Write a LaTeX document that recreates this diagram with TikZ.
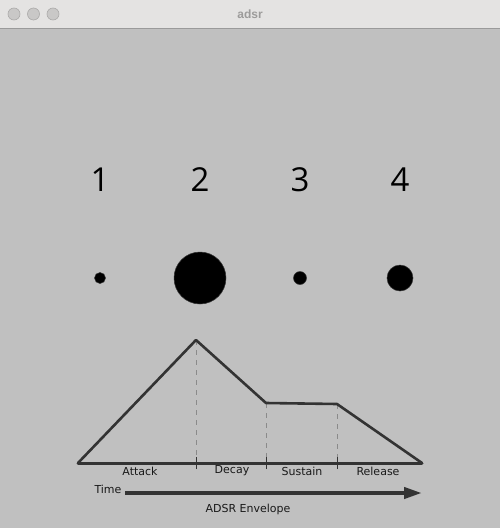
\documentclass[tikz,border=0pt]{standalone}
\usepackage{fontspec}
\setmainfont{Open Sans}
\newfontfamily\labfont{DejaVu Sans}
\newfontfamily\titlefont{Liberation Sans}
\usetikzlibrary{arrows.meta}
\definecolor{bgbody}{HTML}{C0C0C0}
\definecolor{bgbar}{HTML}{E4E3E2}
\definecolor{barline}{HTML}{9A9A9A}
\definecolor{lightbtn}{HTML}{C9C8C7}
\definecolor{lightedge}{HTML}{ABAAA9}
\definecolor{titlegray}{HTML}{9C9B9A}
\definecolor{ink}{HTML}{333333}
\definecolor{dashgray}{HTML}{8A8A8A}
\tikzset{
  winbtn/.style={circle, fill=lightbtn, draw=lightedge, line width=0.6pt, minimum size=12pt, inner sep=0pt},
  digit/.style={font=\fontsize{33}{36}\selectfont, text=black, inner sep=0pt},
  dot/.style={circle, fill=black, draw=black!80, line width=0.5pt, inner sep=0pt},
  envline/.style={draw=ink, line width=2.6pt, line join=round, line cap=round},
  guide/.style={draw=dashgray, line width=0.6pt, dash pattern=on 5pt off 5pt},
  tickmark/.style={draw=ink, line width=1pt},
  lab/.style={font=\labfont\fontsize{11}{13}\selectfont, text=black!90, inner sep=0pt},
}
\begin{document}
\begin{tikzpicture}[x=1pt,y=-1pt]
\useasboundingbox (0,0) rectangle (500,528);
% window
\fill[bgbody] (0,0) rectangle (500,528);
\fill[bgbar] (0,0) rectangle (500,28);
\draw[barline, line width=1pt] (0,28.5) -- (500,28.5);
\node[winbtn] (b1) at (14,14) {};
\node[winbtn] (b2) at (33.5,14) {};
\node[winbtn] (b3) at (53,14) {};
\node[font=\titlefont\bfseries\fontsize{12}{14}\selectfont, text=titlegray] (title) at (250,14) {adsr};
% digits
\node[digit] (n1) at (100,180) {1};
\node[digit] (n2) at (200,180) {2};
\node[digit] (n3) at (300,180) {3};
\node[digit] (n4) at (400,180) {4};
% dots
\node[dot, minimum size=11pt] (d1) at (100,278) {};
\node[dot, minimum size=52pt] (d2) at (200,278) {};
\node[dot, minimum size=13pt] (d3) at (300,278) {};
\node[dot, minimum size=26pt] (d4) at (400,278) {};
% envelope points
\coordinate (s) at (78,463);
\coordinate (pk) at (196,340);
\coordinate (de) at (266,403);
\coordinate (se) at (337,404);
\coordinate (e) at (422,463);
\coordinate (t1) at (196,463);
\coordinate (t2) at (266,463);
\coordinate (t3) at (337,463);
% guides
\draw[guide] (pk) -- (t1);
\draw[guide] (de) -- (t2);
\draw[guide] (se) -- (t3);
% ticks
\draw[tickmark] ([yshift=-6pt]t1) -- ([yshift=6pt]t1);
\draw[tickmark] ([yshift=-6pt]t2) -- ([yshift=6pt]t2);
\draw[tickmark] ([yshift=-6pt]t3) -- ([yshift=6pt]t3);
% envelope
\draw[envline] (s) -- (pk) -- (de) -- (se) -- (e);
\draw[envline, line width=3pt] (s) -- (e);
% labels
\node[lab] (la) at (140,471) {Attack};
\node[lab] (ld) at (232,471) {Decay};
\node[lab] (ls) at (302,471) {Sustain};
\node[lab] (lr) at (378,471) {Release};
\node[lab] (time) at (108,489) {Time};
\coordinate (a0) at (125,493);
\coordinate (a1) at (422,493);
\draw[draw=ink, line width=4pt, -{Triangle[length=18pt,width=11pt]}] (a0) -- (a1);
\node[lab] (cap) at (248,509) {ADSR Envelope};
\end{tikzpicture}
\end{document}
